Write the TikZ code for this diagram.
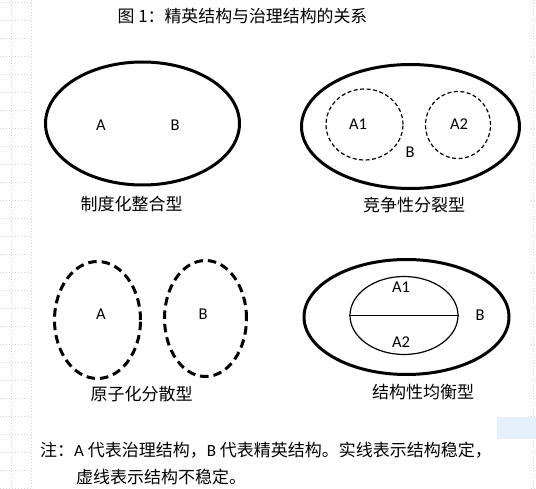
\documentclass[tikz,border=0pt]{standalone}
\usepackage{fontspec}
\setmainfont{Carlito}
\newfontfamily\cjk{Noto Sans CJK SC}
\usetikzlibrary{shapes.geometric}
\definecolor{hintblue}{RGB}{230,240,251}
\begin{document}
\begin{tikzpicture}[x=1pt,y=-1pt,
  thickell/.style={ellipse,draw,line width=3pt,inner sep=0pt},
  thickdash/.style={ellipse,draw,line width=3pt,inner sep=0pt,dash pattern=on 8.5pt off 5pt},
  thindash/.style={ellipse,draw,line width=1.2pt,inner sep=0pt,dash pattern=on 4pt off 2.5pt},
  thinell/.style={ellipse,draw,line width=1.2pt,inner sep=0pt},
  lbl/.style={font=\fontsize{16.5}{18}\selectfont,inner sep=0pt},
  captxt/.style={font=\cjk\fontsize{17}{19}\selectfont,inner sep=0pt},
  gridln/.style={draw=black!16,line width=0.6pt,dash pattern=on 1pt off 2pt}]
\useasboundingbox[fill=white] (0,0) rectangle (536,489);
% page grid marks
\foreach \gx in {11,31.5} \draw[gridln] (\gx,0) -- (\gx,489);
\draw[gridln] (533,0) -- (533,489);
\foreach \k in {0,...,27} {
  \draw[gridln] (0,2+18*\k) -- (33,2+18*\k);
  \draw[gridln] (531,2+18*\k) -- (536,2+18*\k);
}
\fill[hintblue] (497,417) rectangle (536,439);
% title
\node[font=\cjk\fontsize{16.9}{18}\selectfont,inner sep=0pt] (title) at (242.5,16) {图 1：精英结构与治理结构的关系};
% top-left
\node[thickell,minimum width=194pt,minimum height=123pt] (e1) at (142.5,123.5) {};
\node[lbl] (a1) at (101,125) {A};
\node[lbl] (b1) at (175,125) {B};
\node[captxt] (c1) at (131.5,204) {制度化整合型};
% top-right
\node[thickell,minimum width=218pt,minimum height=124pt] (e2) at (410.5,126.5) {};
\node[thindash,minimum width=77pt,minimum height=71pt] (e2a) at (364.5,124.5) {};
\node[thindash,minimum width=65pt,minimum height=67pt] (e2b) at (458,125) {};
\node[lbl] (a21) at (358,124.5) {A1};
\node[lbl] (a22) at (459,124.5) {A2};
\node[lbl] (b2) at (410,152) {B};
\node[captxt] (c2) at (414,205) {竞争性分裂型};
% bottom-left
\node[thickdash,minimum width=86pt,minimum height=117pt] (e3a) at (97.5,320) {};
\node[thickdash,minimum width=82pt,minimum height=116pt] (e3b) at (205.5,318.5) {};
\node[lbl] (a3) at (101,314) {A};
\node[lbl] (b3) at (203,314) {B};
\node[captxt] (c3) at (141.5,394) {原子化分散型};
% bottom-right
\node[thickell,minimum width=205pt,minimum height=115pt] (e4) at (406.5,317) {};
\node[thinell,minimum width=108pt,minimum height=78pt] (e4i) at (404,315.5) {};
\draw[line width=1.2pt] (e4i.west) -- (e4i.east);
\node[lbl] (a41) at (401,287.5) {A1};
\node[lbl] (a42) at (401,342.5) {A2};
\node[lbl] (b4) at (480,315) {B};
\node[captxt] (c4) at (423,392) {结构性均衡型};
% note
\node[captxt,anchor=west] (n1) at (40,450) {注：{\rmfamily A} 代表治理结构，{\rmfamily B} 代表精英结构。实线表示结构稳定，};
\node[captxt,anchor=west] (n2) at (76,477) {虚线表示结构不稳定。};
\end{tikzpicture}
\end{document}
